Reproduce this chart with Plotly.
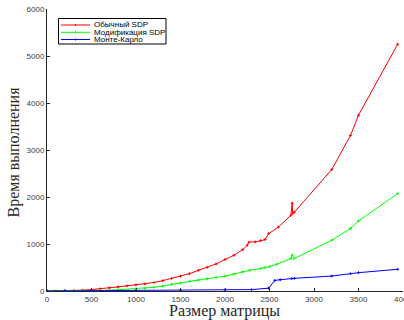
import plotly.graph_objects as go

# Data
red_x = [0, 100, 200, 300, 400, 500, 600, 700, 800, 900, 1000, 1100, 1200, 1300, 1400, 1500,
         1600, 1700, 1800, 1900, 2000, 2100, 2200, 2250, 2270, 2340, 2400, 2450, 2490, 2600,
         2740, 2755, 2760, 2780, 3200, 3410, 3500, 3940]
red_y = [0, 1, 3, 8, 17, 30, 45, 65, 88, 110, 130, 150, 180, 220, 268, 315,
         368, 440, 505, 575, 670, 760, 880, 975, 1040, 1045, 1070, 1095, 1220, 1360,
         1610, 1870, 1650, 1680, 2585, 3310, 3740, 5250]

green_x = [0, 200, 400, 600, 800, 1000, 1100, 1200, 1300, 1400, 1500, 1600, 1700, 1800, 1900,
           2000, 2100, 2200, 2280, 2400, 2450, 2500, 2580, 2740, 2755, 2775, 3200, 3410, 3500, 3940]
green_y = [0, 1, 4, 10, 28, 48, 58, 78, 105, 145, 170, 205, 232, 258, 290,
           315, 360, 410, 443, 480, 498, 520, 568, 690, 765, 690, 1080, 1330, 1490, 2072]

blue_x = [0, 200, 500, 1000, 1500, 2000, 2300, 2490, 2560, 2620, 2750, 2780, 3200, 3410, 3500, 3940]
blue_y = [0, 3, 8, 12, 18, 25, 30, 60, 225, 240, 265, 270, 318, 370, 390, 462]

names = ["Обычный SDP", "Модификация SDP", "Монте-Карло"]
colors = ["#ff0000", "#00ff00", "#0000ff"]
x_ticks = [0, 500, 1000, 1500, 2000, 2500, 3000, 3500, 4000]
y_ticks = [0, 1000, 2000, 3000, 4000, 5000, 6000]
x_title = "Размер матрицы"
y_title = "Время выполнения"

fig = go.Figure()
for xs, ys, nm, col in [(red_x, red_y, names[0], colors[0]),
                         (green_x, green_y, names[1], colors[1]),
                         (blue_x, blue_y, names[2], colors[2])]:
    fig.add_trace(go.Scatter(
        x=xs, y=ys, name=nm, mode="lines+markers", showlegend=False,
        line=dict(color=col, width=1),
        marker=dict(symbol="cross-thin", size=2, line=dict(color=col, width=1)),
    ))

# Plot area in pixels
L, T, W, H = 47, 9, 356, 282


def px(xp):
    return (xp - L) / W


def py(yp):
    return (T + H - yp) / H


# Compact MATLAB-style legend
shapes = [dict(type="rect", xref="paper", yref="paper",
               x0=px(58.5), x1=px(166), y0=py(44), y1=py(18.5),
               line=dict(color="black", width=1), fillcolor="white", layer="above")]
annotations = []
row_y = [25, 32.3, 39.5]
for nm, col, ry in zip(names, colors, row_y):
    shapes.append(dict(type="line", xref="paper", yref="paper",
                       x0=px(61), x1=px(90), y0=py(ry), y1=py(ry),
                       line=dict(color=col, width=1), layer="above"))
    shapes.append(dict(type="line", xref="paper", yref="paper",
                       x0=px(75.5), x1=px(75.5), y0=py(ry - 1), y1=py(ry + 1),
                       line=dict(color=col, width=1), layer="above"))
    annotations.append(dict(text=nm, xref="paper", yref="paper", x=px(92), y=py(ry),
                            xanchor="left", yanchor="middle", showarrow=False,
                            font=dict(family="Liberation Sans, Arial", size=8, color="black")))

title_font = dict(family="Liberation Serif, Times New Roman", size=16, color="#262626")
annotations.append(dict(text=x_title, xref="paper", yref="paper", x=px(224.5), y=py(311),
                        xanchor="center", yanchor="middle", showarrow=False, font=title_font))
annotations.append(dict(text=y_title, xref="paper", yref="paper", x=px(13.5), y=py(152),
                        xanchor="center", yanchor="middle", showarrow=False, textangle=-90,
                        font=title_font))

axis_common = dict(
    showgrid=False, zeroline=False, showline=True, linecolor="#262626", linewidth=1,
    ticks="inside", ticklen=3, tickcolor="#262626", automargin=False,
    tickfont=dict(family="Liberation Sans, Arial", size=8, color="#404040"),
)

fig.update_layout(
    width=404, height=320,
    margin=dict(l=L, r=404 - L - W, t=T, b=320 - T - H),
    paper_bgcolor="white", plot_bgcolor="white",
    showlegend=False,
    shapes=shapes,
    annotations=annotations,
    xaxis=dict(range=[0, 4000], tickvals=x_ticks, ticklabeloverflow="allow", **axis_common),
    yaxis=dict(range=[0, 6000], tickvals=y_ticks, **axis_common),
)

fig.write_html("out.html", config={"displayModeBar": False},
               post_script="document.body.style.margin='0';document.body.style.overflow='hidden';")
